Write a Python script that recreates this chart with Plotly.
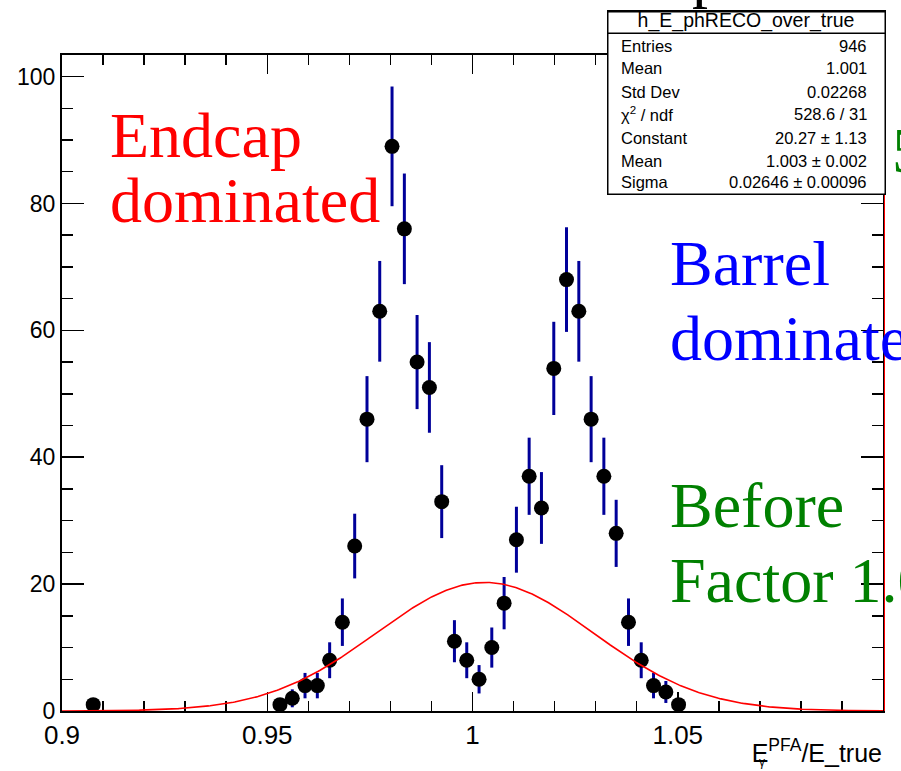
import numpy as np
import plotly.graph_objects as go

# ---------------- data ----------------
x_centers = [0.9076, 0.9531, 0.9561, 0.9592, 0.9622, 0.9652, 0.9683, 0.9713,
             0.9743, 0.9774, 0.9804, 0.9834, 0.9865, 0.9895, 0.9925, 0.9956,
             0.9986, 1.0016, 1.0047, 1.0077, 1.0107, 1.0138, 1.0168, 1.0198,
             1.0229, 1.0259, 1.0289, 1.0320, 1.0350, 1.0380, 1.0411, 1.0441,
             1.0471, 1.0502]
counts = [1, 1, 2, 4, 4, 8, 14, 26, 46, 63, 89, 76, 55, 51, 33, 11, 8, 5, 10,
          17, 27, 37, 32, 54, 68, 63, 46, 37, 28, 14, 8, 4, 3, 1]

fit_constant = 20.27
fit_mean = 1.003
fit_sigma = 0.02646

stat_labels = ["Entries", "Mean", "Std Dev", "\u03c7<sup>2</sup> / ndf",
               "Constant", "Mean", "Sigma"]
stat_values = ["946", "1.001", "0.02268", "528.6 / 31",
               "20.27 \u00b1 1.13", "1.003 \u00b1 0.002", "0.02646 \u00b1 0.00096"]
hist_name = "h_E_phRECO_over_true"

x_tick_vals = [0.9, 0.95, 1.0, 1.05, 1.1]
x_tick_text = ["0.9", "0.95", "1", "1.05", "1.1"]

# ---------------- figure ----------------
W, H = 901, 771
L, R, T, B = 62, 18, 55, 60
PW, PH = W - L - R, H - T - B


def px_x(p):
    return (p - L) / PW


def px_y(p):
    return (H - B - p) / PH


errors = np.sqrt(np.array(counts, dtype=float))
xf = np.linspace(0.9, 1.1, 600)
yf = fit_constant * np.exp(-0.5 * ((xf - fit_mean) / fit_sigma) ** 2)

fig = go.Figure()
fig.add_trace(go.Scatter(
    x=x_centers, y=counts, mode="markers",
    marker=dict(color="black", size=15),
    error_y=dict(type="data", array=errors, visible=True,
                 color="#000099", thickness=3, width=0),
    showlegend=False, cliponaxis=False, hoverinfo="skip"))
fig.add_trace(go.Scatter(
    x=xf, y=yf, mode="lines", line=dict(color="#ff0000", width=1.6),
    showlegend=False, cliponaxis=False, hoverinfo="skip"))

sans = "Liberation Sans, Arial, Helvetica, sans-serif"
serif = "Liberation Serif, Times New Roman, serif"

ann = []
big = 64


def big_text(txt, x_left, baseline, color):
    ann.append(dict(text=txt, xref="paper", yref="paper",
                    x=px_x(x_left), y=px_y(baseline - 0.338 * big),
                    xanchor="left", yanchor="middle", showarrow=False,
                    font=dict(family=serif, size=big, color=color)))


big_text("Endcap", 108, 157, "#ff0000")
big_text("dominated", 108, 222, "#ff0000")
big_text("Barrel", 668, 285, "#0000ff")
big_text("dominated", 668, 360, "#0000ff")
big_text("Before", 668, 527, "#008000")
big_text("Factor 1.05", 668, 602, "#008000")
# end of a green text that is mostly hidden behind the statistics box
big_text("5", 890, 172, "#008000")

# statistics box (white, drawn over the hidden text)
ann.append(dict(text=" ", xref="paper", yref="paper",
                x=px_x(746), y=px_y(103), xanchor="center", yanchor="middle",
                width=276, height=182, borderpad=0, borderwidth=1.5,
                bordercolor="black", bgcolor="white", showarrow=False,
                font=dict(family=sans, size=10)))
ann.append(dict(text=" ", xref="paper", yref="paper",
                x=px_x(746), y=px_y(22), xanchor="center", yanchor="middle",
                width=276, height=20, borderpad=0, borderwidth=1.5,
                bordercolor="black", bgcolor="white", showarrow=False,
                font=dict(family=sans, size=10)))
ann.append(dict(text=hist_name, xref="paper", yref="paper",
                x=px_x(746), y=px_y(20), xanchor="center", yanchor="middle",
                height=26, width=270, valign="middle",
                showarrow=False, font=dict(family=sans, size=19.5, color="black")))
row_y = [46, 68, 92, 114, 138, 161, 182]
for lab, val, yy in zip(stat_labels, stat_values, row_y):
    ann.append(dict(text=lab, xref="paper", yref="paper", x=px_x(619),
                    y=px_y(yy), xanchor="left", yanchor="middle", showarrow=False,
                    font=dict(family=sans, size=16.5, color="black")))
    ann.append(dict(text=val, xref="paper", yref="paper", x=px_x(869),
                    y=px_y(yy), xanchor="right", yanchor="middle", showarrow=False,
                    font=dict(family=sans, size=16.5, color="black")))

# fragment of the title above the canvas
ann.append(dict(text="p", xref="paper", yref="paper", x=px_x(708), y=px_y(11),
                xanchor="center", yanchor="bottom", showarrow=False,
                font=dict(family=serif, size=64, color="black")))

# x-axis title
ann.append(dict(text="E<sup>PFA</sup>/E_true", xref="paper", yref="paper",
                x=px_x(884), y=px_y(751), xanchor="right", yanchor="middle",
                height=40, width=150, align="right", valign="middle",
                showarrow=False, font=dict(family=sans, size=25, color="black")))
ann.append(dict(text="\u03b3", xref="paper", yref="paper",
                x=px_x(757), y=px_y(762), xanchor="left", yanchor="middle",
                showarrow=False, font=dict(family=sans, size=12, color="black")))

shapes = [
    dict(type="line", xref="paper", yref="paper",
         x0=px_x(884.5), x1=px_x(884.5), y0=px_y(195), y1=px_y(711),
         line=dict(color="#ff0000", width=1)),
]

axis_common = dict(showline=True, linecolor="black", linewidth=2,
                   mirror="ticks", ticks="inside", tickcolor="black",
                   tickwidth=1.5, showgrid=False, zeroline=False,
                   layer="below traces")

fig.update_layout(
    width=W, height=H,
    margin=dict(l=L, r=R, t=T, b=B, pad=0),
    paper_bgcolor="white", plot_bgcolor="white",
    showlegend=False, hovermode=False,
    xaxis=dict(range=[0.9, 1.1], tickvals=x_tick_vals, ticktext=x_tick_text,
               ticklen=19, tickfont=dict(family=sans, size=26, color="black"),
               minor=dict(dtick=0.01, tick0=0.9, ticklen=10, ticks="inside",
                          tickcolor="black", tickwidth=1.5),
               **axis_common),
    yaxis=dict(range=[0, 103.4], dtick=20, tick0=0, ticklen=22,
               tickfont=dict(family=sans, size=23, color="black"),
               minor=dict(dtick=5, tick0=0, ticklen=11, ticks="inside",
                          tickcolor="black", tickwidth=1.5),
               **axis_common),
    annotations=ann,
    shapes=shapes,
)

fig.write_html("out.html",
               config={"displayModeBar": False, "staticPlot": True},
               post_script="document.body.style.margin='0';"
                           "document.body.style.padding='0';"
                           "document.body.style.overflow='hidden';")
